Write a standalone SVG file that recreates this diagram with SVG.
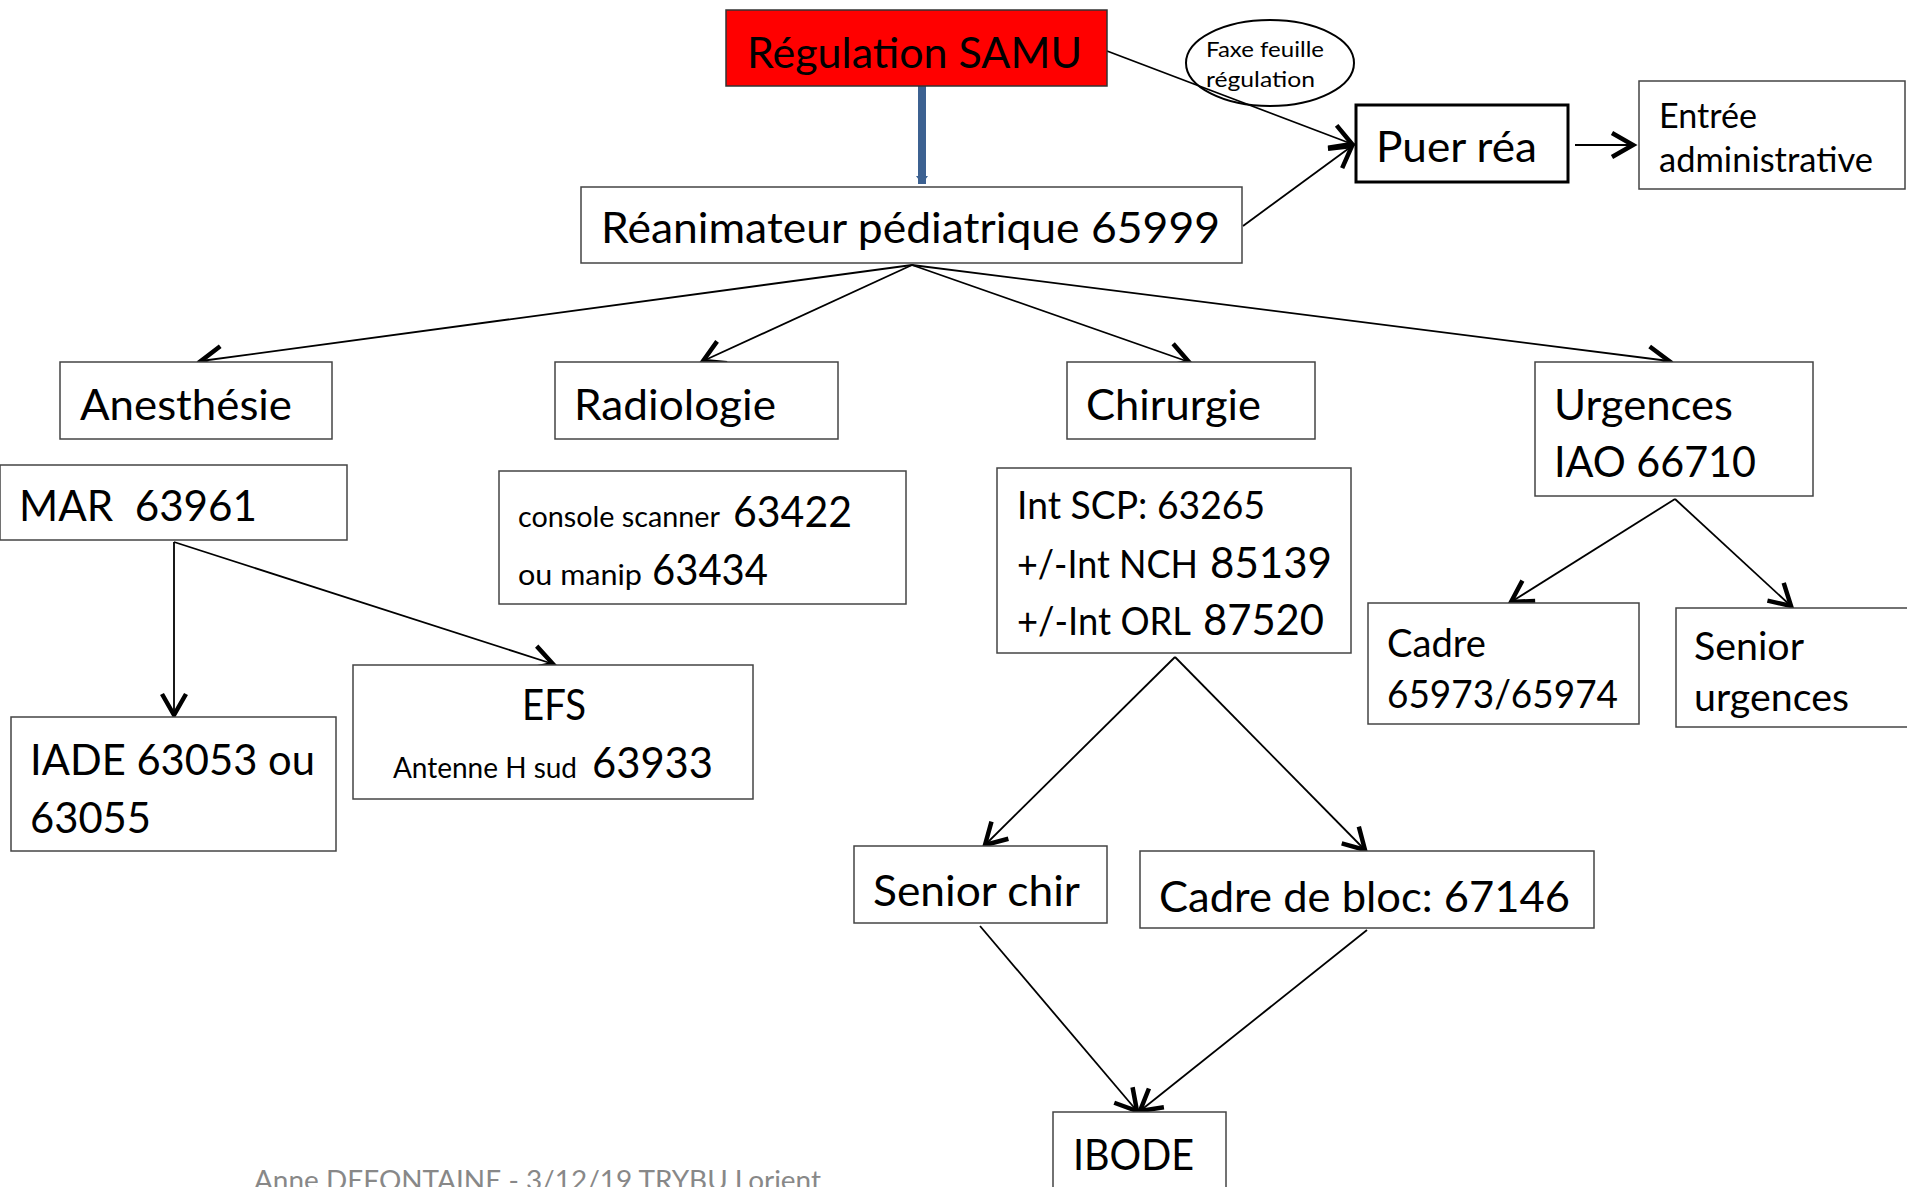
<svg xmlns="http://www.w3.org/2000/svg" width="1907" height="1187" viewBox="0 0 1907 1187">
<style>
text{font-family:Lato,"Open Sans","Liberation Sans",sans-serif;fill:#000}
.box{fill:#fff;stroke:#444;stroke-width:1.5}
.big{font-size:43px}
.mid{font-size:39px}
.sm{font-size:28px}
.ln{stroke:#000;stroke-width:1.8;fill:none;marker-end:url(#arr)}
</style>
<defs>
<marker id="arr" markerUnits="userSpaceOnUse" markerWidth="30" markerHeight="30" viewBox="-16 -10 20 20" refX="0" refY="0" orient="auto">
<path d="M-14,-8 L0,0 L-14,8" fill="none" stroke="#000" stroke-width="3"/>
</marker>
<marker id="barr" markerUnits="userSpaceOnUse" markerWidth="20" markerHeight="20" viewBox="-10 -10 20 20" refX="0" refY="0" orient="auto">
<path d="M-8,-6 L0,0 L-8,6 Z" fill="#3C6191"/>
</marker>
</defs>
<rect width="1907" height="1187" fill="#fff"/>

<g id="connectors">
<line x1="922" y1="86" x2="922" y2="184" stroke="#3C6191" stroke-width="8" marker-end="url(#barr)"/>
<line class="ln" x1="1107" y1="51" x2="1352" y2="144"/>
<line class="ln" x1="1243" y1="226" x2="1352" y2="146"/>
<line class="ln" x1="1575" y1="145" x2="1633" y2="145"/>
<line class="ln" x1="912" y1="265" x2="201" y2="361"/>
<line class="ln" x1="912" y1="265" x2="703" y2="361"/>
<line class="ln" x1="912" y1="265" x2="1189" y2="362"/>
<line class="ln" x1="912" y1="265" x2="1669" y2="361"/>
<line class="ln" x1="174" y1="542" x2="174" y2="715"/>
<line class="ln" x1="174" y1="542" x2="553" y2="664"/>
<line class="ln" x1="1675" y1="499" x2="1511" y2="602"/>
<line class="ln" x1="1675" y1="499" x2="1791" y2="606"/>
<line class="ln" x1="1175" y1="657" x2="985" y2="845"/>
<line class="ln" x1="1175" y1="657" x2="1365" y2="850"/>
<line class="ln" x1="980" y1="926" x2="1137" y2="1111"/>
<line class="ln" x1="1367" y1="930" x2="1140" y2="1111"/>
</g>

<g id="regulation">
<rect x="726" y="10" width="381" height="76" fill="#f00" stroke="#333" stroke-width="1.5"/>
<text x="747" y="68" class="big" textLength="335" lengthAdjust="spacingAndGlyphs">Régulation SAMU</text>
</g>

<g id="faxe">
<ellipse cx="1270" cy="63" rx="84" ry="43" fill="none" stroke="#000" stroke-width="2"/>
<text x="1206" y="57" font-size="22" textLength="118" lengthAdjust="spacingAndGlyphs">Faxe feuille</text>
<text x="1206" y="87" font-size="22" textLength="109" lengthAdjust="spacingAndGlyphs">régulation</text>
</g>

<g id="reanimateur">
<rect class="box" x="581" y="187" width="661" height="76"/>
<text x="601" y="243" class="big" textLength="619" lengthAdjust="spacingAndGlyphs">Réanimateur pédiatrique 65999</text>
</g>

<g id="puer">
<rect x="1356" y="105" width="212" height="77" fill="#fff" stroke="#000" stroke-width="3"/>
<text x="1376" y="162" class="big" textLength="161" lengthAdjust="spacingAndGlyphs">Puer réa</text>
</g>

<g id="entree">
<rect class="box" x="1639" y="81" width="266" height="108"/>
<text x="1659" y="128" font-size="34" textLength="98" lengthAdjust="spacingAndGlyphs">Entrée</text>
<text x="1659" y="172" font-size="34" textLength="214" lengthAdjust="spacingAndGlyphs">administrative</text>
</g>

<g id="anesthesie">
<rect class="box" x="60" y="362" width="272" height="77"/>
<text x="80" y="420" class="big" textLength="212" lengthAdjust="spacingAndGlyphs">Anesthésie</text>
</g>

<g id="radiologie">
<rect class="box" x="555" y="362" width="283" height="77"/>
<text x="574" y="420" class="big" textLength="202" lengthAdjust="spacingAndGlyphs">Radiologie</text>
</g>

<g id="chirurgie">
<rect class="box" x="1067" y="362" width="248" height="77"/>
<text x="1086" y="420" class="big" textLength="175" lengthAdjust="spacingAndGlyphs">Chirurgie</text>
</g>

<g id="urgences">
<rect class="box" x="1535" y="362" width="278" height="134"/>
<text x="1554" y="420" class="big" textLength="179" lengthAdjust="spacingAndGlyphs">Urgences</text>
<text x="1554" y="477" class="big" textLength="202" lengthAdjust="spacingAndGlyphs">IAO 66710</text>
</g>

<g id="mar">
<rect class="box" x="0" y="465" width="347" height="75"/>
<text x="19" y="521" class="big" xml:space="preserve" textLength="238" lengthAdjust="spacingAndGlyphs">MAR  63961</text>
</g>

<g id="console">
<rect class="box" x="499" y="471" width="407" height="133"/>
<text x="518" y="527" class="sm" textLength="202" lengthAdjust="spacingAndGlyphs">console scanner</text>
<text x="733" y="527" class="big" textLength="119" lengthAdjust="spacingAndGlyphs">63422</text>
<text x="518" y="585" class="sm" textLength="124" lengthAdjust="spacingAndGlyphs">ou manip</text>
<text x="652" y="585" class="big" textLength="116" lengthAdjust="spacingAndGlyphs">63434</text>
</g>

<g id="intscp">
<rect class="box" x="997" y="468" width="354" height="185"/>
<text x="1017" y="519" class="mid" textLength="248" lengthAdjust="spacingAndGlyphs">Int SCP: 63265</text>
<text x="1017" y="578" class="mid" textLength="181" lengthAdjust="spacingAndGlyphs">+/-Int NCH</text>
<text x="1210" y="578" class="big" textLength="122" lengthAdjust="spacingAndGlyphs">85139</text>
<text x="1017" y="635" class="mid" textLength="174" lengthAdjust="spacingAndGlyphs">+/-Int ORL</text>
<text x="1203" y="635" class="big" textLength="121" lengthAdjust="spacingAndGlyphs">87520</text>
</g>

<g id="iade">
<rect class="box" x="11" y="717" width="325" height="134"/>
<text x="30" y="775" class="big" textLength="285" lengthAdjust="spacingAndGlyphs">IADE 63053 ou</text>
<text x="30" y="833" class="big" textLength="121" lengthAdjust="spacingAndGlyphs">63055</text>
</g>

<g id="efs">
<rect class="box" x="353" y="665" width="400" height="134"/>
<text x="522" y="720" class="big" textLength="64" lengthAdjust="spacingAndGlyphs">EFS</text>
<text x="393" y="778" class="sm" textLength="184" lengthAdjust="spacingAndGlyphs">Antenne H sud</text>
<text x="592" y="778" class="big" textLength="121" lengthAdjust="spacingAndGlyphs">63933</text>
</g>

<g id="cadre">
<rect class="box" x="1368" y="603" width="271" height="121"/>
<text x="1387" y="657" class="mid" textLength="99" lengthAdjust="spacingAndGlyphs">Cadre</text>
<text x="1387" y="708" class="mid" textLength="231" lengthAdjust="spacingAndGlyphs">65973/65974</text>
</g>

<g id="senior-urgences">
<rect class="box" x="1676" y="608" width="240" height="119"/>
<text x="1694" y="660" class="mid" textLength="110" lengthAdjust="spacingAndGlyphs">Senior</text>
<text x="1694" y="711" class="mid" textLength="155" lengthAdjust="spacingAndGlyphs">urgences</text>
</g>

<g id="senior-chir">
<rect class="box" x="854" y="846" width="253" height="77"/>
<text x="873" y="906" class="big" textLength="207" lengthAdjust="spacingAndGlyphs">Senior chir</text>
</g>

<g id="cadre-bloc">
<rect class="box" x="1140" y="851" width="454" height="77"/>
<text x="1159" y="912" class="big" textLength="411" lengthAdjust="spacingAndGlyphs">Cadre de bloc: 67146</text>
</g>

<g id="ibode">
<rect class="box" x="1053" y="1112" width="173" height="90"/>
<text x="1073" y="1170" class="big" textLength="121" lengthAdjust="spacingAndGlyphs">IBODE</text>
</g>

<g id="footer">
<text x="254" y="1190" font-size="27" style="fill:#888" textLength="567" lengthAdjust="spacingAndGlyphs">Anne DEFONTAINE - 3/12/19 TRYBU Lorient</text>
</g>
</svg>
